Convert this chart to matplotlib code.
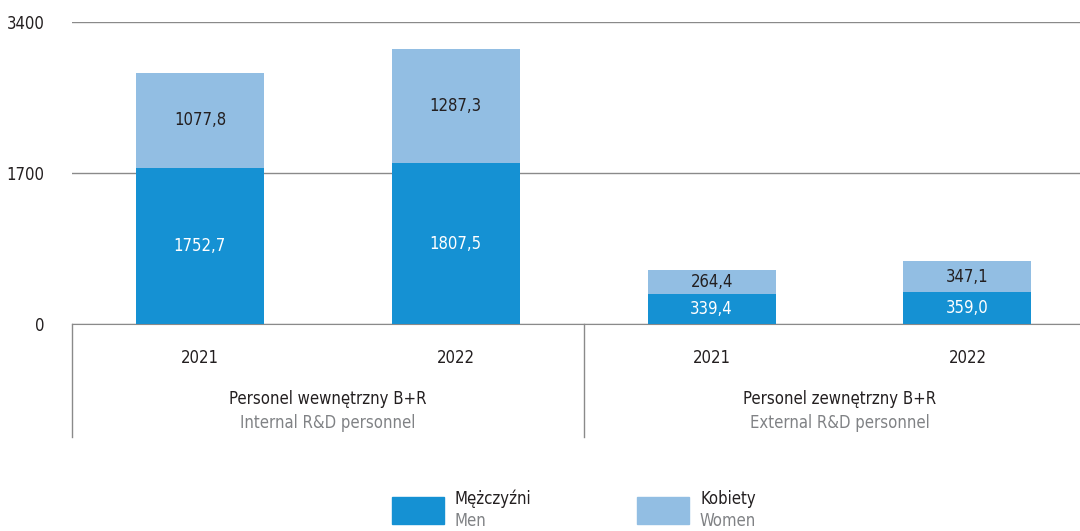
import matplotlib.pyplot as plt
from matplotlib.patches import Rectangle

plt.rcParams['font.family'] = ['DejaVu Sans']
plt.rcParams['font.stretch'] = 'condensed'

years = ["2021", "2022", "2021", "2022"]
groups_pl = ["Personel wewnętrzny B+R", "Personel zewnętrzny B+R"]
groups_en = ["Internal R&D personnel", "External R&D personnel"]
men = [1752.7, 1807.5, 339.4, 359.0]
women = [1077.8, 1287.3, 264.4, 347.1]

DARK = "#1591d3"
LIGHT = "#92bee3"
TXT = "#231f20"
GREY = "#808285"
FS = 12

fig = plt.figure(figsize=(10.8, 5.31), dpi=100)
ax = fig.add_axes([72 / 1080, 1 - 324 / 531, 1 - 72 / 1080, (324 - 22) / 531])

x = list(range(len(years)))
ax.bar(x, men, width=0.5, color=DARK, zorder=3)
ax.bar(x, women, width=0.5, bottom=men, color=LIGHT, zorder=3)

for i in x:
    ax.text(i, men[i] / 2, f"{men[i]:.1f}".replace(".", ","), ha="center", va="center",
            color="white", fontsize=FS, zorder=4)
    ax.text(i, men[i] + women[i] / 2, f"{women[i]:.1f}".replace(".", ","), ha="center",
            va="center", color=TXT, fontsize=FS, zorder=4)

ax.set_xlim(-0.5, 3.44)
ax.set_ylim(0, 3400)
ax.set_yticks([0, 1700, 3400])
ax.set_yticklabels(["0", "1700", "3400"], fontsize=FS, color=TXT)
ax.tick_params(axis="y", length=0, pad=20)
ax.yaxis.grid(True, color="#8a8a8a", linewidth=1)
ax.set_axisbelow(True)
for s in ["top", "right", "left"]:
    ax.spines[s].set_visible(False)
ax.spines["bottom"].set_color("#8a8a8a")
ax.set_xticks(x)
ax.set_xticklabels(years, fontsize=FS, color=TXT)
ax.tick_params(axis="x", length=0, pad=18)

# group separators below the axis
for sx in [-0.5, 1.5]:
    ax.plot([sx, sx], [0, -1270], color="#8a8a8a", linewidth=1, clip_on=False)

for g, cx in enumerate([0.5, 2.5]):
    ax.text(cx, -850, groups_pl[g], ha="center", va="center", fontsize=FS, color=TXT)
    ax.text(cx, -1120, groups_en[g], ha="center", va="center", fontsize=FS, color=GREY)

# legend
legend_items = [("Mężczyźni", "Men", DARK, 392), ("Kobiety", "Women", LIGHT, 637)]
for pl, en, c, px in legend_items:
    fig.patches.append(Rectangle((px / 1080, 1 - 524 / 531), 52 / 1080, 27 / 531,
                                 transform=fig.transFigure, color=c))
    fig.text((px + 63) / 1080, 1 - 499 / 531, pl, ha="left", va="center", fontsize=FS, color=TXT)
    fig.text((px + 63) / 1080, 1 - 521 / 531, en, ha="left", va="center", fontsize=FS, color=GREY)

fig.savefig("out.png", dpi=100)
